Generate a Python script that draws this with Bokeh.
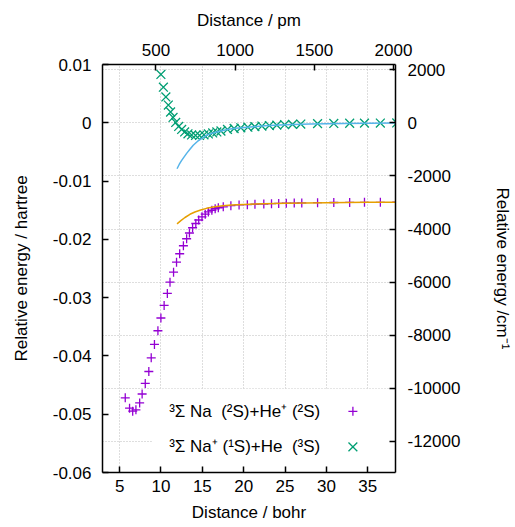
import math
from bokeh.plotting import figure
from bokeh.models import Range1d, LinearAxis, FixedTicker, Grid, Label
from bokeh.embed import file_html
from bokeh.resources import INLINE

# ---------------- data ----------------
# 3Sigma Na(2S)+He+(2S)  (purple +)
na_he_plus_r = [5.68, 6.20, 6.58, 6.97, 7.42, 7.72, 8.10, 8.53, 8.82, 9.21, 9.63, 9.99,
                10.38, 10.77, 11.09, 11.52, 11.88, 12.26, 12.71, 13.10, 13.44, 13.82,
                14.21, 14.56, 14.96, 15.35, 15.73, 16.15, 16.55, 16.93, 17.53, 18.45,
                19.44, 20.44, 21.36, 22.43, 23.36, 24.23, 25.15, 26.11, 27.02, 28.93,
                30.89, 32.81, 34.60, 36.52, 38.50]
na_he_plus_e = [-0.04718, -0.04896, -0.04948, -0.04924, -0.04807, -0.04653, -0.04472,
                -0.04267, -0.04032, -0.03803, -0.03568, -0.03349, -0.03134, -0.02928,
                -0.02735, -0.02563, -0.02391, -0.02247, -0.02110, -0.01990, -0.01891,
                -0.01801, -0.01728, -0.01668, -0.01613, -0.01568, -0.01530, -0.01501,
                -0.01475, -0.01458, -0.01441, -0.01422, -0.01410, -0.01405, -0.01398,
                -0.01393, -0.01388, -0.01384, -0.01380, -0.01377, -0.01375, -0.01371,
                -0.01368, -0.01366, -0.01365, -0.01364, -0.01363]

# 3Sigma Na+(1S)+He(3S)  (green x)
na_plus_he_r = [9.99, 10.29, 10.59, 10.89, 11.16, 11.46, 11.78, 12.14, 12.50, 12.86,
                13.26, 13.70, 14.18, 14.66, 15.20, 15.73, 16.25, 16.75, 17.25, 18.04,
                18.84, 19.65, 20.50, 21.35, 22.20, 23.10, 24.00, 24.95, 25.90, 26.90,
                28.93, 30.89, 32.81, 34.60, 36.52, 38.50]
na_plus_he_e = [0.00829, 0.00611, 0.00443, 0.00305, 0.00185, 0.00091, 0.00005, -0.00063,
                -0.00115, -0.00158, -0.00189, -0.00209, -0.00218, -0.00218, -0.00206,
                -0.00192, -0.00175, -0.00158, -0.00141, -0.00115, -0.00098, -0.00086,
                -0.00076, -0.00066, -0.00056, -0.00047, -0.00040, -0.00033, -0.00027,
                -0.00022, -0.00015, -0.00011, -0.00008, -0.00006, -0.00004, -0.00003]

# long-range curves (orange for series 1, light blue for series 2)
fit1_r = [11.94, 12.4, 12.9, 13.5, 14.1, 14.8, 15.5, 16.5, 17.5, 18.5, 20.0, 22.5,
          25.0, 30.0, 35.0, 38.35]
fit1_e = [-0.01733, -0.01680, -0.01625, -0.01570, -0.01530, -0.01495, -0.01468,
          -0.01442, -0.01425, -0.01412, -0.01400, -0.01389, -0.01381, -0.01370,
          -0.01365, -0.01363]
fit2_r = [11.94, 12.2, 12.5, 12.8, 13.1, 13.5, 13.9, 14.4, 14.9, 15.5, 16.2, 17.0,
          18.0, 19.0, 20.5, 22.5, 25.0, 28.0, 32.0, 38.35]
fit2_e = [-0.00789, -0.00715, -0.00645, -0.00585, -0.00525, -0.00455, -0.00385,
          -0.00320, -0.00270, -0.00215, -0.00178, -0.00150, -0.00117, -0.00094,
          -0.00075, -0.00052, -0.00035, -0.00020, -0.00012, -0.00005]

bohr_ticks = [5, 10, 15, 20, 25, 30, 35]
pm_ticks = [500, 1000, 1500, 2000]
hartree_ticks = [0.01, 0.0, -0.01, -0.02, -0.03, -0.04, -0.05, -0.06]
hartree_labels = ["0.01", "0", "-0.01", "-0.02", "-0.03", "-0.04", "-0.05", "-0.06"]
cm_ticks = [2000, 0, -2000, -4000, -6000, -8000, -10000, -12000]
cm_labels = ["2000", "0", "-2000", "-4000", "-6000", "-8000", "-10000", "-12000"]

NB = "\u00a0"
legend_labels = ["\u00b3\u03a3 Na " + NB + "(\u00b2S)+He\u207a (\u00b2S)",
                 "\u00b3\u03a3 Na\u207a (\u00b9S)+He " + NB + "(\u00b3S)"]

HARTREE_TO_CM = 219474.63
X_START, X_END = 2.93, 38.35
Y_START, Y_END = -0.06, 0.01

FONT = "Liberation Sans"
FS = "17px"
PURPLE = "#9400d3"
GREEN = "#009e73"
ORANGE = "#e69f00"
BLUE = "#56b4e9"

p = figure(width=515, height=527, output_backend="svg", toolbar_location=None,
           x_range=Range1d(X_START, X_END), y_range=Range1d(Y_START, Y_END),
           x_axis_type=None, y_axis_type=None,
           min_border_left=102, min_border_right=117, min_border_top=64,
           min_border_bottom=55)
p.outline_line_color = None
p.background_fill_color = "white"
p.border_fill_color = "white"

p.extra_x_ranges = {"pm": Range1d(162.5, 2012.5)}
p.extra_y_ranges = {"cm": Range1d(Y_START * HARTREE_TO_CM, Y_END * HARTREE_TO_CM)}


def style(ax, standoff):
    ax.major_tick_in = 6
    ax.major_tick_out = 0
    ax.minor_tick_in = 0
    ax.minor_tick_out = 0
    ax.axis_line_width = 1.5
    ax.axis_line_color = "black"
    ax.major_tick_line_width = 1.5
    ax.major_tick_line_color = "black"
    ax.major_label_text_font = FONT
    ax.major_label_text_font_size = FS
    ax.major_label_text_color = "black"
    ax.major_label_standoff = standoff
    ax.axis_label_text_font = FONT
    ax.axis_label_text_font_size = FS
    ax.axis_label_text_font_style = "normal"
    ax.axis_label_text_color = "black"


bottom = LinearAxis(ticker=FixedTicker(ticks=bohr_ticks), axis_label="Distance / bohr")
style(bottom, 7)
bottom.axis_label_standoff = 8
p.add_layout(bottom, "below")

top = LinearAxis(x_range_name="pm", ticker=FixedTicker(ticks=pm_ticks),
                 axis_label="Distance / pm")
style(top, 9)
top.axis_label_standoff = 11
p.add_layout(top, "above")

left = LinearAxis(ticker=FixedTicker(ticks=hartree_ticks),
                  axis_label="Relative energy / hartree",
                  major_label_overrides={t: l for t, l in zip(hartree_ticks, hartree_labels)})
style(left, 11)
left.axis_label_standoff = 19
p.add_layout(left, "left")

right = LinearAxis(y_range_name="cm", ticker=FixedTicker(ticks=cm_ticks),
                   axis_label="Relative energy /cm\u207b\u00b9",
                   major_label_overrides={t: l for t, l in zip(cm_ticks, cm_labels)})
style(right, 12)
right.axis_label_standoff = 30
p.add_layout(right, "right")

# grids: vertical at bohr ticks, horizontal at cm-1 ticks
gx = Grid(dimension=0, ticker=FixedTicker(ticks=bohr_ticks),
          grid_line_color="#bdbdbd", grid_line_dash="1 2", grid_line_width=1)
gy = Grid(dimension=1, ticker=FixedTicker(ticks=cm_ticks), y_range_name="cm",
          grid_line_color="#bdbdbd", grid_line_dash="1 2", grid_line_width=1)
p.add_layout(gx)
p.add_layout(gy)

# opaque key box (layout, in data coordinates)
p.quad(left=[8.9], right=[X_END], top=[-0.04565], bottom=[-0.0590],
       fill_color="white", line_color=None)

# data points
p.scatter(na_he_plus_r, na_he_plus_e, marker="cross", size=9, line_width=1.3,
          line_color=PURPLE)
p.scatter(na_plus_he_r, na_plus_he_e, marker="x", size=12.5, line_width=1.3,
          line_color=GREEN)

# long-range curves
p.line(fit1_r, fit1_e, line_color=ORANGE, line_width=1.5)
p.line(fit2_r, fit2_e, line_color=BLUE, line_width=1.5)

# key
key_text_x = 29.25
key_sym_x = 33.2
key_y = [-0.04950, -0.05560]
for lab, ky in zip(legend_labels, key_y):
    p.add_layout(Label(x=key_text_x, y=ky, text=lab, text_align="right",
                       text_baseline="middle", text_font=FONT, text_font_size=FS,
                       text_color="black"))
p.scatter([key_sym_x], [key_y[0]], marker="cross", size=9, line_width=1.3,
          line_color=PURPLE)
p.scatter([key_sym_x], [key_y[1]], marker="x", size=12.5, line_width=1.3,
          line_color=GREEN)

open("out.html", "w").write(file_html(p, INLINE))
